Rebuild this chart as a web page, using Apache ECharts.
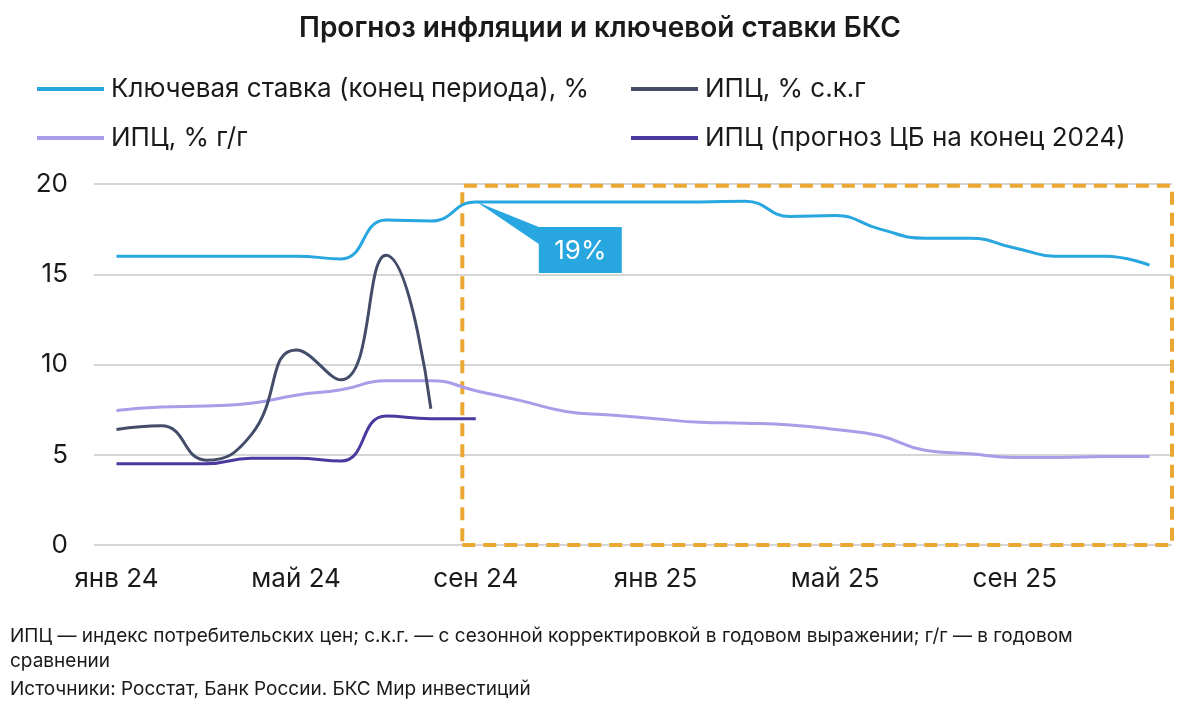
<!DOCTYPE html>
<html><head><meta charset="utf-8">
<script src="https://cdn.jsdelivr.net/npm/echarts@6/dist/echarts.min.js"></script>
<style>html,body{margin:0;padding:0;background:#fff}#c{width:1200px;height:711px}</style>
</head><body><div id="c"></div>
<script>
const months = ['янв 24','фев 24','мар 24','апр 24','май 24','июн 24','июл 24','авг 24','сен 24','окт 24','ноя 24','дек 24',
                'янв 25','фев 25','мар 25','апр 25','май 25','июн 25','июл 25','авг 25','сен 25','окт 25','ноя 25','дек 25'];
const labelIdx = [0,4,8,12,16,20];
const keyRate   = [16,16,16,16,16,15.85,18.0,17.95,19,19,19,19,19,19,19.05,18.2,18.25,17.5,17.0,17.0,16.45,16.0,16.0,15.5];
const cpiSA     = [6.4,6.6,4.7,6.1,10.8,9.15,16.05,7.55];
const cpiYY     = [7.45,7.65,7.7,7.85,8.3,8.6,9.1,9.1,8.55,8.0,7.4,7.2,7.0,6.8,6.75,6.65,6.4,6.05,5.25,5.05,4.85,4.85,4.9,4.9];
const cbFcst    = [4.5,4.5,4.5,4.8,4.8,4.65,7.15,7.0,7.0];
const names = ['Ключевая ставка (конец периода), %','ИПЦ, % с.к.г','ИПЦ, % г/г','ИПЦ (прогноз ЦБ на конец 2024)'];
const forecastBox = [[7.7,-0.1],[23.5,19.9]];
const calloutIdx = 8, calloutText = '19%';
const notes = ['ИПЦ — индекс потребительских цен; с.к.г. — с сезонной корректировкой в годовом выражении; г/г — в годовом',
               'сравнении','Источники: Росстат, Банк России. БКС Мир инвестиций'];

const colors = ['#27a6df','#434d69','#a99ce8','#4a3a9f'];
const F = 'Inter, Roboto, "Noto Sans", sans-serif';
const pairs = a => a.map((v,i)=>[i,v]);

const chart = echarts.init(document.getElementById('c'), null, {renderer:'canvas'});
function leg(name, left, top){
  return {data:[name], left, top, icon:'rect', itemWidth:67, itemHeight:4,
    textStyle:{fontFamily:F, fontSize:26, color:'#1a1a1a', padding:[0,0,0,2]}, selectedMode:false};
}
const lineS = (i, data, z) => ({name:names[i], type:'line', data:pairs(data), smooth:0.5, symbol:'none',
  lineStyle:{color:colors[i], width:3}, itemStyle:{color:colors[i]}, z, connectNulls:false});

const noteGraphics = () => notes.map((t,i)=>({type:'text', left:10, top:[627,652,680][i],
    style:{text:t, font:'19px '+F, fill:'#1a1a1a'}}));

chart.setOption({
  animation:false,
  title:{text:'Прогноз инфляции и ключевой ставки БКС', left:'center', top:10,
    textStyle:{fontFamily:F, fontSize:28, fontWeight:600, color:'#1a1a1a'}},
  legend:[leg(names[0],32,71), leg(names[1],626,71), leg(names[2],32,120), leg(names[3],626,120)],
  grid:{left:94, right:28, top:184, bottom:166},
  xAxis:{type:'value', min:-0.5, max:23.5,
    axisLine:{show:false}, axisTick:{show:false}, splitLine:{show:false},
    axisLabel:{customValues:labelIdx, formatter:v=>months[Math.round(v)], fontFamily:F, fontSize:26, color:'#1a1a1a', margin:21}},
  yAxis:{type:'value', min:0, max:20, interval:5,
    axisLine:{show:false}, axisTick:{show:false},
    splitLine:{lineStyle:{color:'#d6d6d6', width:2}},
    axisLabel:{fontFamily:F, fontSize:26, color:'#1a1a1a', margin:26}},
  series:[
    Object.assign(lineS(0,keyRate,5),{markArea:{silent:true, itemStyle:{color:'rgba(0,0,0,0)', borderColor:'#eaa833', borderWidth:4, borderType:[13,8]},
      data:[[{coord:forecastBox[0]},{coord:forecastBox[1]}]]}}),
    lineS(2,cpiYY,2),
    lineS(1,cpiSA,3),
    lineS(3,cbFcst,4)
  ],
  graphic: noteGraphics()
});

const p = chart.convertToPixel({xAxisIndex:0, yAxisIndex:0},[calloutIdx, keyRate[calloutIdx]]);
const bx = p[0]+63, by = p[1]+25, bw = 83, bh = 46;
chart.setOption({graphic: noteGraphics().concat([
  {type:'polygon', z:100, shape:{points:[[p[0]+1,p[1]],[bx,by],[bx+bw,by],[bx+bw,by+bh],[bx,by+bh],[bx,by+17]]}, style:{fill:'#27a6df'}},
  {type:'text', z:101, x:bx+bw/2, y:by+bh/2+1, style:{text:calloutText, fill:'#fff', font:'26px '+F, align:'center', verticalAlign:'middle'}}
])});
</script></body></html>
